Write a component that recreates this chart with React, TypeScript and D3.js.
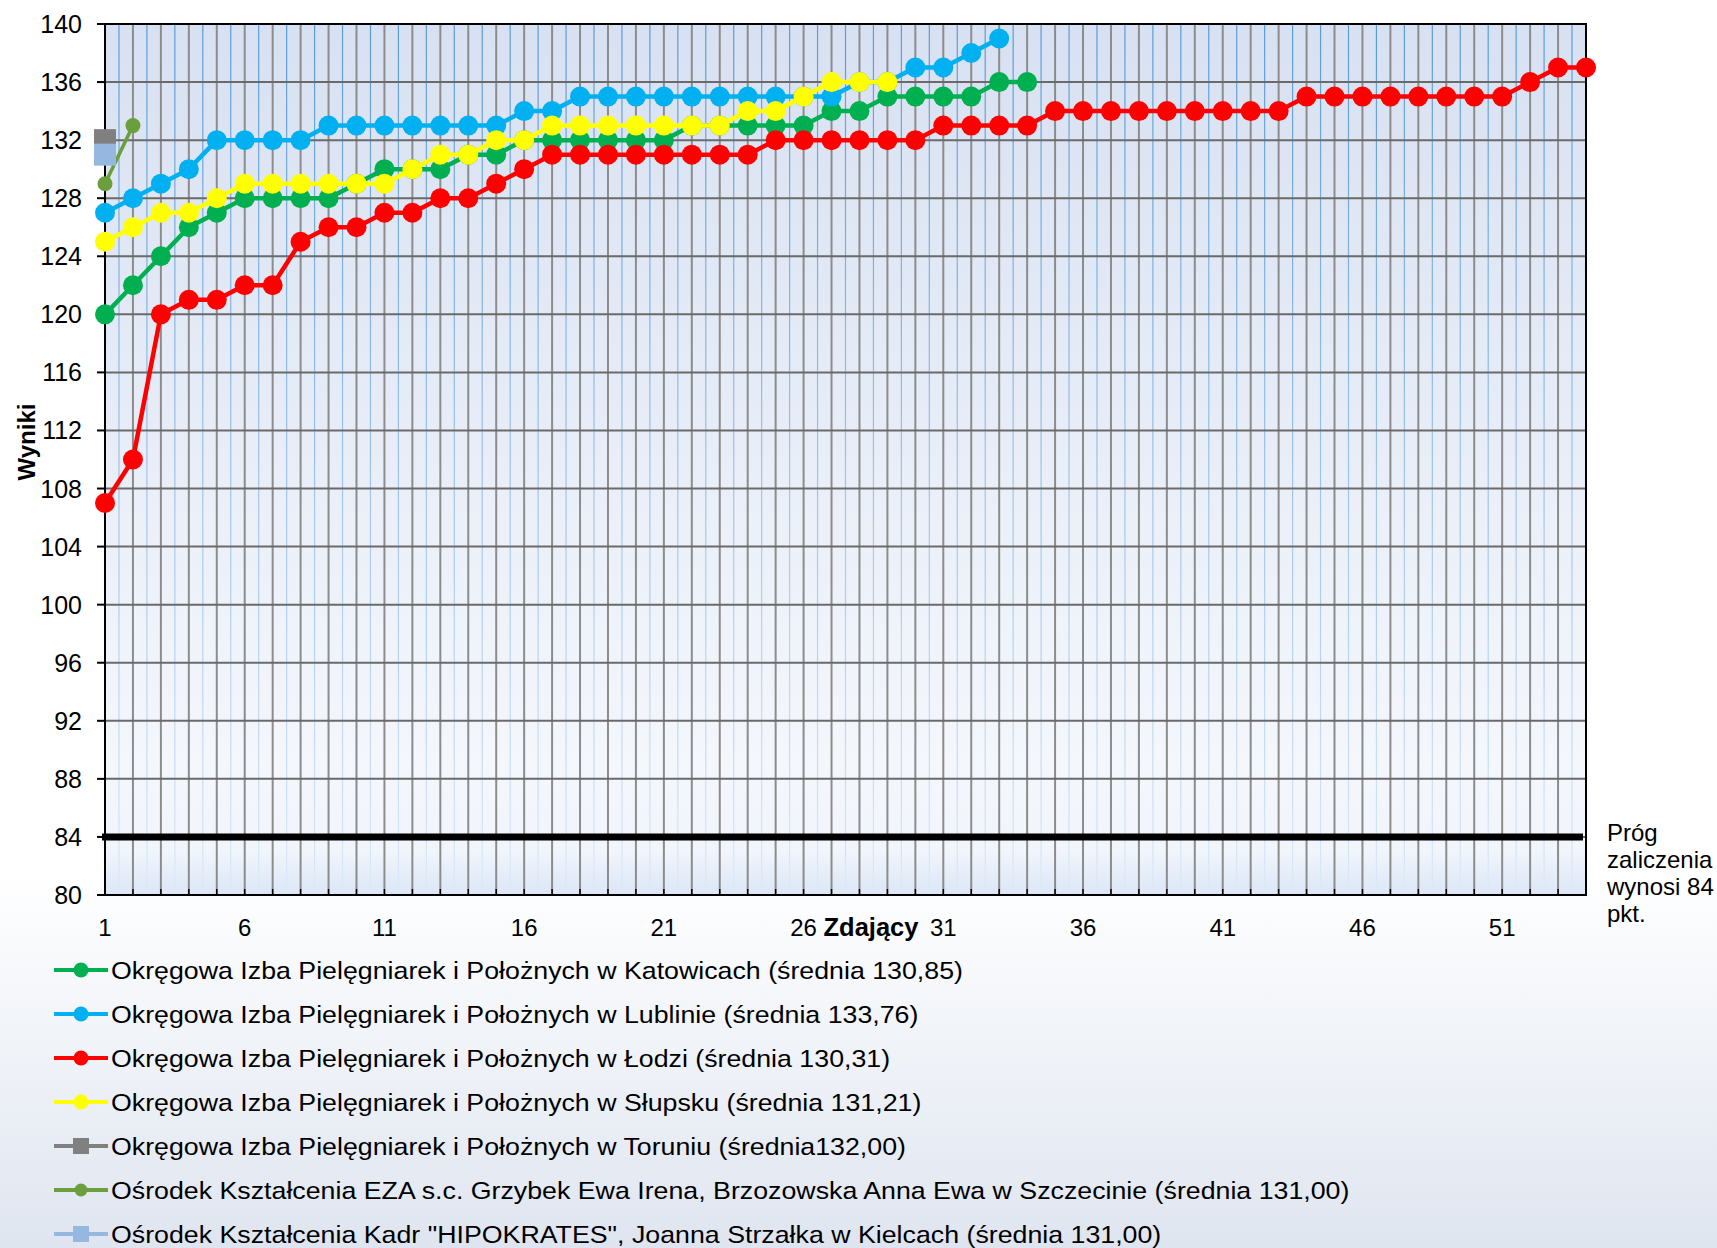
import React, { useEffect } from 'react';
import * as d3 from 'd3';

// number of candidates (category axis 1..54)
const zdajacy = Array.from({ length: 54 }, (_, i) => i + 1);
const xTickLabels = [1, 6, 11, 16, 21, 26, 31, 36, 41, 46, 51];
const yTicks = [80, 84, 88, 92, 96, 100, 104, 108, 112, 116, 120, 124, 128, 132, 136, 140];
const prog = 84;

const katowice = [120, 122, 124, 126, 127, 128, 128, 128, 128, 129, 130, 130, 130, 131, 131, 132, 132, 132, 132, 132, 132, 133, 133, 133, 133, 133, 134, 134, 135, 135, 135, 135, 136, 136];
const lublin = [127, 128, 129, 130, 132, 132, 132, 132, 133, 133, 133, 133, 133, 133, 133, 134, 134, 135, 135, 135, 135, 135, 135, 135, 135, 135, 135, 136, 136, 137, 137, 138, 139];
const lodz = [107, 110, 120, 121, 121, 122, 122, 125, 126, 126, 127, 127, 128, 128, 129, 130, 131, 131, 131, 131, 131, 131, 131, 131, 132, 132, 132, 132, 132, 132, 133, 133, 133, 133, 134, 134, 134, 134, 134, 134, 134, 134, 134, 135, 135, 135, 135, 135, 135, 135, 135, 136, 137, 137];
const slupsk = [125, 126, 127, 127, 128, 129, 129, 129, 129, 129, 129, 130, 131, 131, 132, 132, 133, 133, 133, 133, 133, 133, 133, 134, 134, 135, 136, 136, 136];
const torun = [132];
const eza = [129, 133];
const kielce = [131];

const series = [
  { name: 'Okręgowa Izba Pielęgniarek i Położnych w Katowicach (średnia 130,85)', values: katowice, color: '#00b050', marker: 'circle', r: 10, lw: 4.5 },
  { name: 'Okręgowa Izba Pielęgniarek i Położnych w Lublinie (średnia 133,76)', values: lublin, color: '#00b0f0', marker: 'circle', r: 10, lw: 4.5 },
  { name: 'Okręgowa Izba Pielęgniarek i Położnych w Łodzi (średnia 130,31)', values: lodz, color: '#ff0000', marker: 'circle', r: 10, lw: 4.5 },
  { name: 'Okręgowa Izba Pielęgniarek i Położnych w Słupsku (średnia 131,21)', values: slupsk, color: '#ffff00', marker: 'circle', r: 10, lw: 4.5 },
  { name: 'Okręgowa Izba Pielęgniarek i Położnych w Toruniu (średnia132,00)', values: torun, color: '#808080', marker: 'square', r: 11, lw: 4.5 },
  { name: 'Ośrodek Kształcenia EZA s.c. Grzybek Ewa Irena, Brzozowska Anna Ewa w Szczecinie (średnia 131,00)', values: eza, color: '#6b9e3c', marker: 'circle', r: 7.5, lw: 3.5 },
  { name: 'Ośrodek Kształcenia Kadr "HIPOKRATES", Joanna Strzałka w Kielcach (średnia 131,00)', values: kielce, color: '#95b7e0', marker: 'square', r: 11, lw: 4.5 },
];

const W = 1717;
const H = 1248;
const left = 105, right = 1586, top = 24, bottom = 895;
const font = '"Liberation Sans", Arial, sans-serif';

export default function App() {
  useEffect(() => {
    document.body.style.margin = '0';
  }, []);

  const x = d3.scaleLinear().domain([1, 54]).range([left, right]);
  const y = d3.scaleLinear().domain([80, 140]).range([bottom, top]);
  const line = d3.line<number>().x((_, i) => x(i + 1)).y(d => y(d));

  const legendY0 = 970;
  const legendStep = 44;

  const marker = (s: any, cx: number, cy: number, r: number, key: string) =>
    s.marker === 'square'
      ? <rect key={key} x={cx - r} y={cy - r} width={r * 2} height={r * 2} fill={s.color} />
      : <circle key={key} cx={cx} cy={cy} r={r} fill={s.color} />;

  return (
    <svg width={W} height={H} style={{ display: 'block' }} fontFamily={font}>
      <defs>
        <linearGradient id="bg" x1="0" y1="0" x2="0" y2="1">
          <stop offset="0" stopColor="#ffffff" />
          <stop offset="0.7" stopColor="#ffffff" />
          <stop offset="1" stopColor="#dfe5f0" />
        </linearGradient>
        <linearGradient id="plotbg" x1="0" y1="0" x2="0" y2="1">
          <stop offset="0" stopColor="#d8e1f2" />
          <stop offset="0.85" stopColor="#f4f7fc" />
          <stop offset="0.95" stopColor="#f1f5fc" />
          <stop offset="1" stopColor="#dbe6f6" />
        </linearGradient>
        <linearGradient id="minor" gradientUnits="userSpaceOnUse" x1="0" y1={top} x2="0" y2={bottom}>
          <stop offset="0" stopColor="#5b9bd5" />
          <stop offset="1" stopColor="#dce9f7" />
        </linearGradient>
      </defs>
      <rect x={0} y={0} width={W} height={H} fill="url(#bg)" />
      <rect x={left} y={top} width={right - left} height={bottom - top} fill="url(#plotbg)" />

      {/* minor vertical gridlines */}
      {zdajacy.slice(0, -1).map(c => (
        <line key={'mn' + c} x1={x(c + 0.5)} x2={x(c + 0.5)} y1={top} y2={bottom} stroke="url(#minor)" strokeWidth={1.2} />
      ))}
      {/* major vertical gridlines */}
      {zdajacy.slice(1, -1).map(c => (
        <line key={'mj' + c} x1={x(c)} x2={x(c)} y1={top} y2={bottom} stroke="#8c8c8c" strokeWidth={2} />
      ))}
      {/* horizontal gridlines */}
      {yTicks.slice(1, -1).map(t => (
        <line key={'h' + t} x1={left} x2={right} y1={y(t)} y2={y(t)} stroke="#6a6a6a" strokeWidth={2} />
      ))}
      {/* bottom tick marks */}
      {zdajacy.map(c => (
        <line key={'bt' + c} x1={x(c)} x2={x(c)} y1={bottom - 6} y2={bottom} stroke="#000" strokeWidth={1.5} />
      ))}
      {/* plot border */}
      <rect x={left} y={top} width={right - left} height={bottom - top} fill="none" stroke="#000" strokeWidth={2} />
      {/* y ticks and labels */}
      {yTicks.map(t => (
        <g key={'yt' + t}>
          <line x1={left - 8} x2={left} y1={y(t)} y2={y(t)} stroke="#000" strokeWidth={2} />
          <text x={82} y={y(t)} dy="0.36em" textAnchor="end" fontSize={25} fill="#000">{t}</text>
        </g>
      ))}
      {/* x labels */}
      {xTickLabels.map(t => (
        <text key={'xt' + t} x={x(t)} y={936} textAnchor="middle" fontSize={24} fill="#000">{t}</text>
      ))}
      <text x={871} y={936} textAnchor="middle" fontSize={25.5} fontWeight="bold" fill="#000">Zdający</text>
      <text transform={`translate(35,${442}) rotate(-90)`} textAnchor="middle" fontSize={24} fontWeight="bold" fill="#000">Wyniki</text>

      {/* threshold */}
      <line x1={x(1) - 3} x2={x(54) - 3} y1={y(prog)} y2={y(prog)} stroke="#000" strokeWidth={7} />
      <text x={1607} fontSize={24} fill="#000">
        <tspan x={1607} y={841}>Próg</tspan>
        <tspan x={1607} y={868}>zaliczenia</tspan>
        <tspan x={1607} y={895}>wynosi 84</tspan>
        <tspan x={1607} y={922}>pkt.</tspan>
      </text>

      {/* series */}
      {series.map((s, si) => (
        <g key={'s' + si}>
          {s.values.length > 1 && (
            <path d={line(s.values) || ''} fill="none" stroke={s.color} strokeWidth={s.lw} strokeLinejoin="round" />
          )}
          {s.values.map((v, i) => marker(s, x(i + 1), y(v), s.r, 'm' + si + '-' + i))}
        </g>
      ))}

      {/* legend */}
      {series.map((s, si) => {
        const ly = legendY0 + si * legendStep;
        const lr = s.marker === 'square' ? 8 : s.r === 10 ? 7.5 : 6.5;
        return (
          <g key={'lg' + si}>
            <line x1={54} x2={108} y1={ly} y2={ly} stroke={s.color} strokeWidth={4} />
            {marker(s, 81, ly, lr, 'lm' + si)}
            <text transform={`translate(111,${ly}) scale(1.115,1)`} dy="0.36em" fontSize={24} fill="#000">{s.name}</text>
          </g>
        );
      })}
    </svg>
  );
}
